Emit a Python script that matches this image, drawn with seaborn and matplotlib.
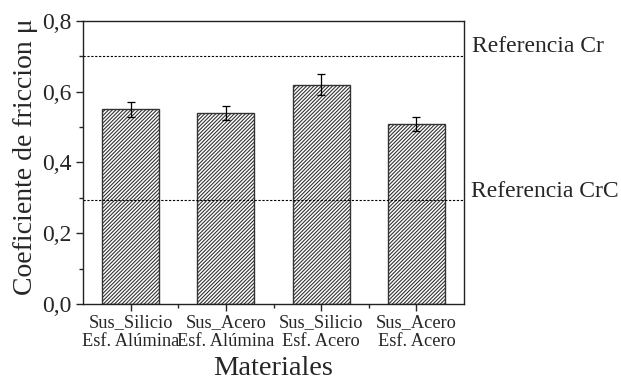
import matplotlib
matplotlib.use("Agg")
import matplotlib.pyplot as plt
import matplotlib.ticker as mticker
import seaborn as sns
import pandas as pd

categorias = ["Sus_Silicio\nEsf. Alúmina", "Sus_Acero\nEsf. Alúmina",
              "Sus_Silicio\nEsf. Acero", "Sus_Acero\nEsf. Acero"]
mu = [0.55, 0.54, 0.62, 0.51]
err = [0.02, 0.02, 0.03, 0.02]
ref_cr = 0.70
ref_crc = 0.295

sns.set_style("ticks")
plt.rcParams['font.family'] = ['Liberation Serif', 'DejaVu Serif']
plt.rcParams['hatch.linewidth'] = 0.8

fig = plt.figure(figsize=(6.21, 3.83), dpi=100)
ax = fig.add_axes([83/621, 1-304/383, (464-83)/621, (304-21)/383])

df = pd.DataFrame({"Materiales": categorias, "mu": mu})
sns.barplot(data=df, x="Materiales", y="mu", ax=ax, color="white",
            edgecolor="#333333", linewidth=1.0, width=0.6, errorbar=None)
for p in ax.patches:
    p.set_hatch("/////////")
    p.set_facecolor("white")

ax.errorbar(range(len(mu)), mu, yerr=err, fmt="none", ecolor="black",
            elinewidth=0.9, capsize=3, capthick=0.9)

ax.axhline(ref_cr, color="black", linestyle=(0, (2, 1.5)), linewidth=0.8)
ax.axhline(ref_crc, color="black", linestyle=(0, (2, 1.5)), linewidth=0.8)
ax.text(1.022, ref_cr + 0.012, "Referencia Cr", transform=ax.get_yaxis_transform(),
        fontsize=17, ha="left", va="baseline")
ax.text(1.019, ref_crc + 0.0075, "Referencia CrC", transform=ax.get_yaxis_transform(),
        fontsize=17, ha="left", va="baseline")

ax.set_xlim(-0.5, 3.5)
ax.set_ylim(0, 0.8)
ax.yaxis.set_major_locator(mticker.MultipleLocator(0.2))
ax.yaxis.set_minor_locator(mticker.MultipleLocator(0.1))
ax.xaxis.set_minor_locator(mticker.FixedLocator([0.5, 1.5, 2.5]))
ax.yaxis.set_major_formatter(mticker.FuncFormatter(lambda v, p: f"{v:.1f}".replace(".", ",")))

ax.tick_params(axis="both", which="major", direction="out", length=5, width=1,
               labelsize=17, top=False, right=False)
ax.tick_params(axis="x", which="major", labelsize=13.2, pad=2)
ax.tick_params(axis="both", which="minor", direction="out", length=3, width=1,
               top=False, right=False)
for s in ax.spines.values():
    s.set_visible(True)
    s.set_linewidth(1.0)
    s.set_color("#222222")

ax.set_xlabel("Materiales", fontsize=20.5, labelpad=4)
ax.set_ylabel("Coeficiente de friccion μ", fontsize=20)
ax.yaxis.set_label_coords(-0.118, 0.52)

fig.savefig("out.png", dpi=100)
